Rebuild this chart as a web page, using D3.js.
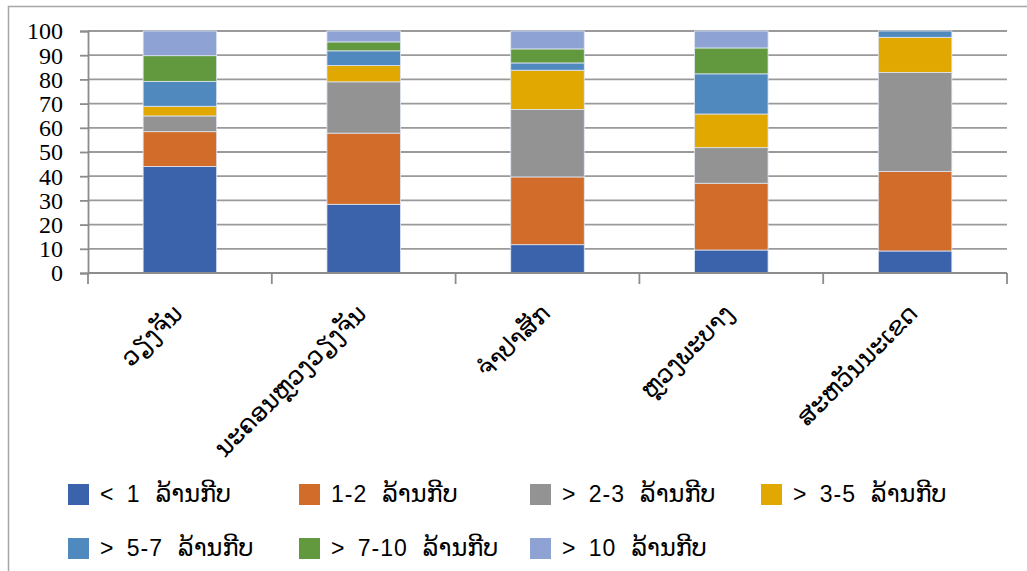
<!DOCTYPE html>
<html>
<head>
<meta charset="utf-8">
<script src="https://cdn.jsdelivr.net/npm/d3@7"></script>
<style>
  html, body { margin: 0; padding: 0; background: #fff; }
  svg { display: block; }
</style>
</head>
<body>
<svg id="chart" width="1027" height="571"></svg>
<script>
// Provinces (Lao)
const provinces = ["ວຽງຈັນ", "ນະຄອນຫຼວງວຽງຈັນ", "ຈຳປາສັກ", "ຫຼວງພະບາງ", "ສະຫວັນນະເຂດ"];

// Income bands (million kip) and their shares, % per province
const bands = ["< 1 ລ້ານກີບ", "1-2 ລ້ານກີບ", "> 2-3 ລ້ານກີບ", "> 3-5 ລ້ານກີບ", "> 5-7 ລ້ານກີບ", "> 7-10 ລ້ານກີບ", "> 10 ລ້ານກີບ"];
const lt1    = [44.0, 28.4, 11.7,  9.5,  9.1];
const b1to2  = [14.4, 29.4, 28.0, 27.6, 32.9];
const b2to3  = [ 6.5, 21.2, 27.9, 14.7, 40.9];
const b3to5  = [ 4.0,  6.7, 16.2, 13.9, 14.5];
const b5to7  = [10.3,  6.1,  3.0, 16.6,  2.6];
const b7to10 = [10.6,  3.7,  5.8, 10.7,  0.0];
const gt10   = [10.2,  4.5,  7.4,  7.0,  0.0];

const yTicks = [0, 10, 20, 30, 40, 50, 60, 70, 80, 90, 100];

const colors = ["#3b63ab", "#d26c2a", "#939393", "#e0a800", "#4f89bd", "#62993f", "#8ea2d4"];

const series = [lt1, b1to2, b2to3, b3to5, b5to7, b7to10, gt10];
const rows = provinces.map((p, i) => {
  const r = { province: p };
  bands.forEach((b, k) => { r[b] = series[k][i]; });
  return r;
});
const stacked = d3.stack().keys(bands)(rows);

const svg = d3.select("#chart");
const plotLeft = 88, plotRight = 1007, plotTop = 31, plotBottom = 273;

const x = d3.scaleBand().domain(provinces).range([plotLeft, plotRight]).paddingInner(0.6).paddingOuter(0.3);
const y = d3.scaleLinear().domain([0, 100]).range([plotBottom, plotTop]);
const color = d3.scaleOrdinal().domain(bands).range(colors);

// Outer frame
svg.append("path")
  .attr("d", `M8.5,571 V6.5 H1027`)
  .attr("fill", "none").attr("stroke", "#a6a6a6").attr("stroke-width", 1.5);

// Horizontal gridlines
svg.append("g").selectAll("line").data(yTicks.filter(t => t > 0)).join("line")
  .attr("x1", plotLeft).attr("x2", plotRight)
  .attr("y1", d => y(d)).attr("y2", d => y(d))
  .attr("stroke", "#9a9a9a").attr("stroke-width", 1.8);

// Y axis
const yAxis = svg.append("g").attr("transform", `translate(${plotLeft},0)`)
  .call(d3.axisLeft(y).tickValues(yTicks).tickSize(8).tickPadding(17));
yAxis.select(".domain").attr("stroke", "#8c8c8c").attr("stroke-width", 1.8);
yAxis.selectAll(".tick line").attr("stroke", "#8c8c8c").attr("stroke-width", 1.8);
yAxis.selectAll(".tick text")
  .attr("font-family", "'Liberation Serif', 'Times New Roman', serif")
  .attr("font-size", 24).attr("fill", "#000").attr("dy", "0.33em");

// Bars
svg.append("g").selectAll("g").data(stacked).join("g")
  .attr("fill", d => color(d.key))
  .selectAll("rect").data(d => d).join("rect")
  .attr("x", d => x(d.data.province))
  .attr("width", x.bandwidth())
  .attr("y", d => y(d[1]))
  .attr("height", d => Math.max(0, y(d[0]) - y(d[1])))
  .attr("stroke", d => (d[1] - d[0]) > 0 ? "#dfe6f2" : "none")
  .attr("stroke-width", 0.8);

// X axis line and category ticks at band edges
const step = x.step();
const edges = d3.range(provinces.length + 1).map(i => plotLeft + i * step);
svg.append("line").attr("x1", plotLeft).attr("x2", plotRight).attr("y1", y(0)).attr("y2", y(0))
  .attr("stroke", "#8c8c8c").attr("stroke-width", 2);
svg.append("g").selectAll("line").data(edges).join("line")
  .attr("x1", d => d).attr("x2", d => d)
  .attr("y1", y(0)).attr("y2", y(0) + 11)
  .attr("stroke", "#8c8c8c").attr("stroke-width", 1.8);

// Category labels, rotated
svg.append("g").selectAll("text").data(provinces).join("text")
  .attr("transform", d => `translate(${x(d) + x.bandwidth() / 2 + 4},${y(0) + 42}) rotate(-45)`)
  .attr("text-anchor", "end")
  .attr("font-family", "'DejaVu Sans', 'Noto Sans', sans-serif")
  .attr("font-size", 24.5).attr("fill", "#000")
  .text(d => d);

// Legend: range prefix in Latin sans, unit in Lao
const legendCols = 4, colW = 231, rowH = 54;
const legend = svg.append("g").selectAll("g").data(bands).join("g")
  .attr("transform", (d, i) => `translate(${68 + (i % legendCols) * colW},${484 + Math.floor(i / legendCols) * rowH})`);
legend.append("rect").attr("width", 21).attr("height", 21).attr("fill", d => color(d));
const legendText = legend.append("text")
  .attr("x", 32).attr("y", 18)
  .attr("fill", "#000");
legendText.append("tspan")
  .attr("font-family", "'Liberation Sans', Arial, sans-serif")
  .attr("font-size", 23)
  .attr("letter-spacing", 1)
  .attr("word-spacing", 5)
  .text(d => d.slice(0, d.lastIndexOf(" ")));
legendText.append("tspan")
  .attr("dx", 15)
  .attr("font-family", "'DejaVu Sans', sans-serif")
  .attr("font-size", 24)
  .text(d => d.slice(d.lastIndexOf(" ") + 1));
</script>
</body>
</html>
